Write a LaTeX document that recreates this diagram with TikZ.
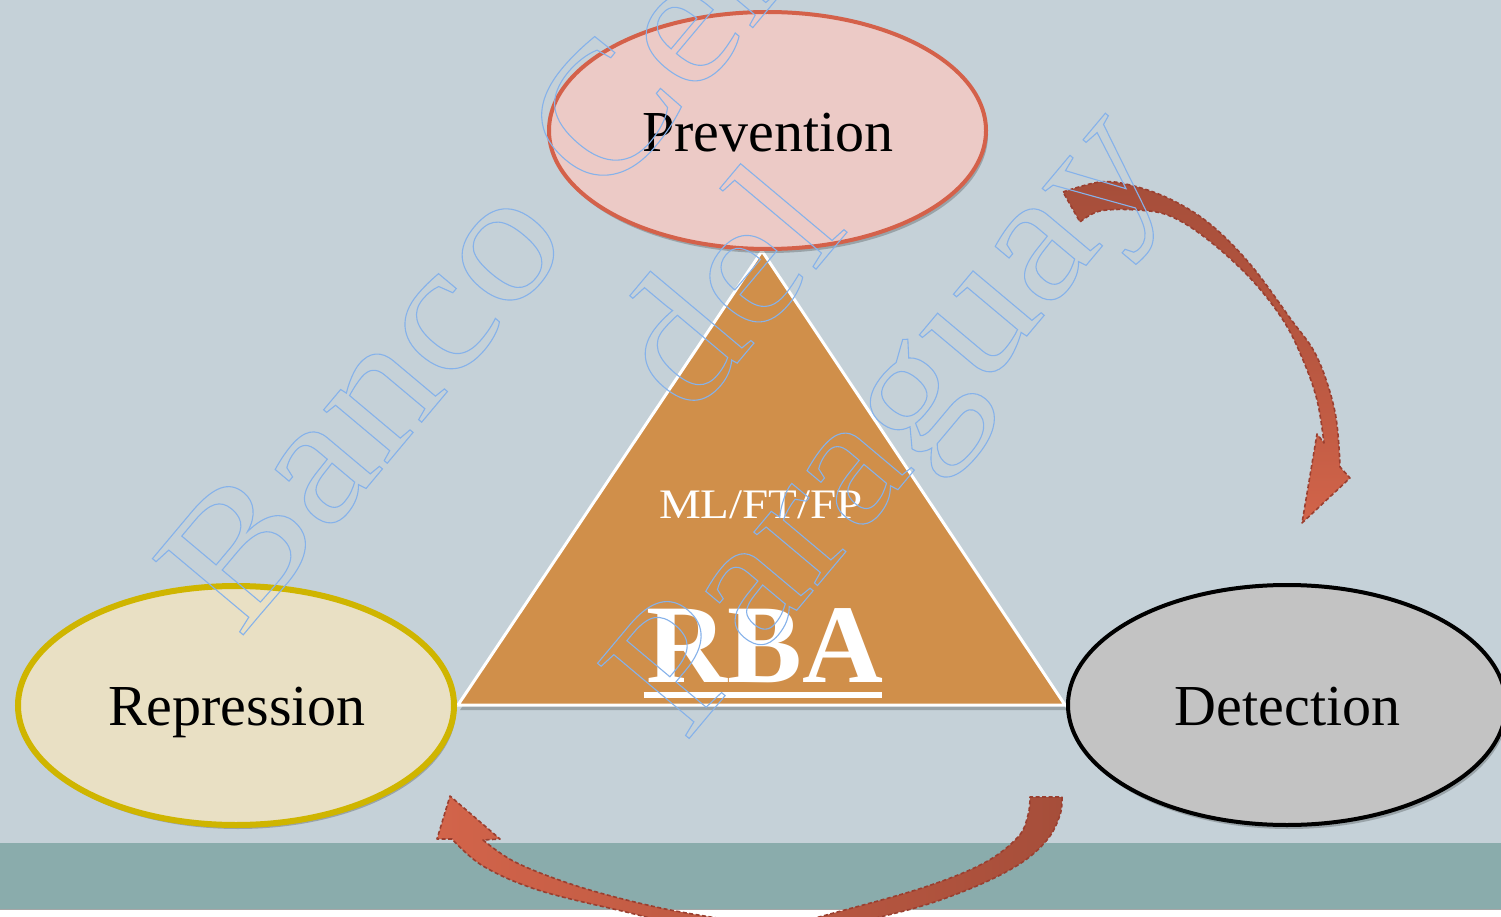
\documentclass[tikz,border=0pt]{standalone}
\usepackage{fontspec}
\setmainfont{Liberation Serif}
\newfontfamily\wmfont[FakeStretch=1.12]{Liberation Serif}
\newfontfamily\wideserif[FakeStretch=1.12]{Liberation Serif}
\usetikzlibrary{shapes.geometric,shadows,calc}
\definecolor{bgc}{HTML}{C5D1D8}
\definecolor{bandc}{HTML}{8AACAC}
\definecolor{tric}{HTML}{D08F4A}
\definecolor{prevfill}{HTML}{ECCAC6}
\definecolor{prevedge}{HTML}{D4614A}
\definecolor{repfill}{HTML}{E9E0C4}
\definecolor{repedge}{HTML}{CFB500}
\definecolor{detfill}{HTML}{C3C3C3}
\definecolor{arrdark}{HTML}{A64E3A}
\definecolor{arrlight}{HTML}{D2644A}
\definecolor{arredge}{HTML}{9A3F30}
\definecolor{wmblue}{HTML}{86B2EA}
\newcommand{\wmtext}[1]{\special{pdf:literal 1 Tr 1.1 w}#1\special{pdf:literal 0 Tr}}
\begin{document}
\begin{tikzpicture}[x=1pt,y=-1pt,
  oval/.style={ellipse, inner sep=0pt, outer sep=0pt,
    drop shadow={shadow xshift=2pt, shadow yshift=-4pt, fill=black, opacity=0.22}},
  lbl/.style={inner sep=0pt, anchor=base, font=\fontsize{58}{70}\selectfont},
  blockarrow/.style={draw=arredge, line width=1.6pt, dash pattern=on 4pt off 2.5pt, line join=round},
  wm/.style={inner sep=0pt, anchor=base, rotate=50, text=wmblue,
    font=\wmfont\fontsize{181}{220}\selectfont}
]
\useasboundingbox (0,0) rectangle (1501,917);
\begin{scope}
\clip (0,0) rectangle (1501,917);
% background
\fill[bgc] (0,0) rectangle (1501,917);
\fill[bandc] (0,843) rectangle (1501,909);
\fill[white] (0,909) rectangle (1501,917);
\draw[black!35, line width=1pt] (0,909.5) -- (1501,909.5);

% triangle
\coordinate (apex) at (762,251);
\coordinate (bl) at (458,705);
\coordinate (br) at (1065,705);
\fill[black, opacity=0.22] ($(apex)+(2,5)$) -- ($(bl)+(2,5)$) -- ($(br)+(2,5)$) -- cycle;
\filldraw[fill=tric, draw=white, line width=3pt, line join=miter] (apex) -- (bl) -- (br) -- cycle;

% ellipses
\node[oval, fill=prevfill, draw=prevedge, line width=4pt,
      minimum width=437pt, minimum height=237pt] (prev) at (767.5,130.5) {};
\node[oval, fill=repfill, draw=repedge, line width=6pt,
      minimum width=436pt, minimum height=239pt] (rep) at (236,705.5) {};
\node[oval, fill=detfill, draw=black, line width=4pt,
      minimum width=438pt, minimum height=240pt] (det) at (1287,705) {};

% labels
\node[lbl] (prevtxt) at (768,152) {Prevention};
\node[lbl] (reptxt) at (237,725) {Repression};
\node[lbl] (dettxt) at (1287.5,725) {Detection};
\node[inner sep=0pt, anchor=base, text=white, font=\wideserif\fontsize{42}{50}\selectfont] (mlft) at (761,518) {ML/FT/FP};
\node[inner sep=0pt, anchor=base, text=white, font=\bfseries\fontsize{112}{130}\selectfont] (rba) at (765,682) {RBA};
\draw[white, line width=6pt] ($(rba.base west)+(-3,13)$) -- ($(rba.base east)+(-1,13)$);

% top-right curved arrow (Prevention -> Detection)
\draw[blockarrow, top color=arrdark, bottom color=arrlight, middle color=arrdark!60!arrlight]
  plot[smooth, tension=0.6] coordinates {(1063,192) (1100,182) (1130,185) (1170,199) (1210,224) (1250,264) (1290,318) (1317,357) (1335,412) (1340,467)}
  -- (1350,478) -- (1302,523) -- (1317,434) -- (1324,443)
  -- plot[smooth, tension=0.6] coordinates {(1324,443) (1317,400) (1303,360) (1283,320) (1250,278) (1207,239) (1170,216) (1137,210) (1100,211) (1080,222)}
  -- cycle;

% bottom curved arrow (Detection -> Repression)
\draw[blockarrow, left color=arrlight, right color=arrdark, middle color=arrdark!50!arrlight]
  plot[smooth, tension=0.6] coordinates {(1062,797) (1060,815) (1047,840) (1018,865) (967,890) (900,912) (800,932) (700,928) (622,911) (538,890) (483,866) (452,839)}
  -- (437,839) -- (450,796) -- (500,839) -- (483,840)
  -- plot[smooth, tension=0.6] coordinates {(483,840) (517,863) (580,887) (656,907) (723,919) (760,924) (800,921) (841,911) (925,887) (984,863) (1018,837) (1028,815) (1030,797)}
  -- cycle;

% watermark
\node[wm] (wm1) at (614,193) {\wmtext{Banco Central}};
\node[wm] (wm2) at (770,324) {\wmtext{del}};
\node[wm] (wm3) at (927,455) {\wmtext{Paraguay}};
\end{scope}
\end{tikzpicture}
\end{document}
